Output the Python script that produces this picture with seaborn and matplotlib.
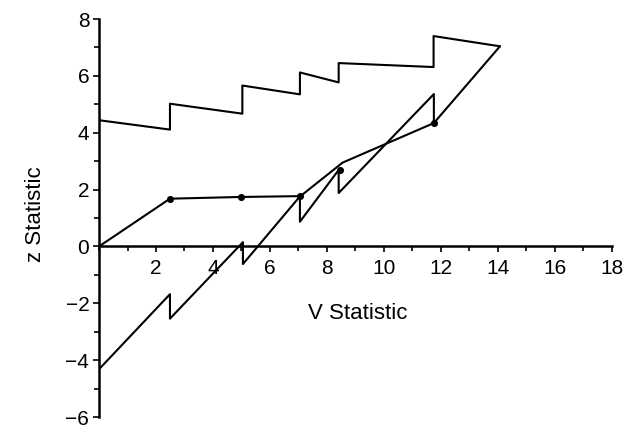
import matplotlib
matplotlib.use("Agg")
import matplotlib.pyplot as plt
import seaborn as sns
import pandas as pd
from matplotlib.ticker import MultipleLocator

# Upper boundary
upper_x = [0.0, 2.49, 2.49, 5.03, 5.03, 7.05, 7.05, 8.41, 8.41, 11.74, 11.74, 14.07]
upper_z = [4.44, 4.11, 5.02, 4.67, 5.66, 5.35, 6.12, 5.77, 6.45, 6.31, 7.40, 7.04]

# Lower boundary
lower_x = [0.0, 2.49, 2.49, 5.05, 5.05, 7.05, 7.05, 8.41, 8.41, 11.75, 11.75, 14.07]
lower_z = [-4.32, -1.68, -2.54, 0.15, -0.62, 1.76, 0.87, 2.69, 1.88, 5.36, 4.34, 7.04]

# Sample path
path_x = [0.0, 2.49, 4.97, 7.07, 8.55, 11.75]
path_z = [0.0, 1.68, 1.74, 1.77, 2.95, 4.34]

# Observed points
dot_x = [2.49, 4.97, 7.07, 8.45, 11.75]
dot_z = [1.68, 1.74, 1.77, 2.69, 4.34]

sns.set_style("ticks")
plt.rcParams['font.family'] = ['Liberation Sans', 'DejaVu Sans']

fig = plt.figure(figsize=(6.33, 4.30), dpi=100)
ax = fig.add_axes([0.1564, 0.0302, 0.8104, 0.9256])

for xs, zs in [(upper_x, upper_z), (lower_x, lower_z), (path_x, path_z)]:
    df = pd.DataFrame({"V": xs, "z": zs})
    sns.lineplot(data=df, x="V", y="z", sort=False, estimator=None,
                 color="black", linewidth=1.5, ax=ax)

sns.scatterplot(x=dot_x, y=dot_z, color="black", s=26, edgecolor="black",
                linewidth=0, ax=ax, zorder=5)

ax.set_xlim(0, 18)
ax.set_ylim(-6, 8)
ax.spines['top'].set_visible(False)
ax.spines['right'].set_visible(False)
ax.spines['bottom'].set_position(('data', 0))
ax.spines['left'].set_position(('data', 0))
for s in ['bottom', 'left']:
    ax.spines[s].set_linewidth(1.8)
    ax.spines[s].set_color('black')

ax.set_xticks([2, 4, 6, 8, 10, 12, 14, 16, 18])
ax.set_yticks([-6, -4, -2, 0, 2, 4, 6, 8])
ax.xaxis.set_minor_locator(MultipleLocator(1))
ax.yaxis.set_minor_locator(MultipleLocator(1))
ax.tick_params(axis='x', which='both', bottom=True, top=False)
ax.tick_params(axis='y', which='both', left=True, right=False)
ax.tick_params(axis='both', which='both', direction='out', color='black',
               width=1.2, labelsize=15, labelcolor='black')
ax.tick_params(axis='x', which='major', length=4, pad=5)
ax.tick_params(axis='x', which='minor', length=3.5)
ax.tick_params(axis='y', which='major', length=4, pad=3)
ax.tick_params(axis='y', which='minor', length=3.5)

ax.set_xlabel("V Statistic", fontsize=16, color='black')
ax.set_ylabel("z Statistic", fontsize=16, color='black')
ax.xaxis.set_label_coords(0.505, 0.286)
ax.yaxis.set_label_coords(-0.104, 0.51)
ax.grid(False)

fig.savefig("out.png", dpi=100)
